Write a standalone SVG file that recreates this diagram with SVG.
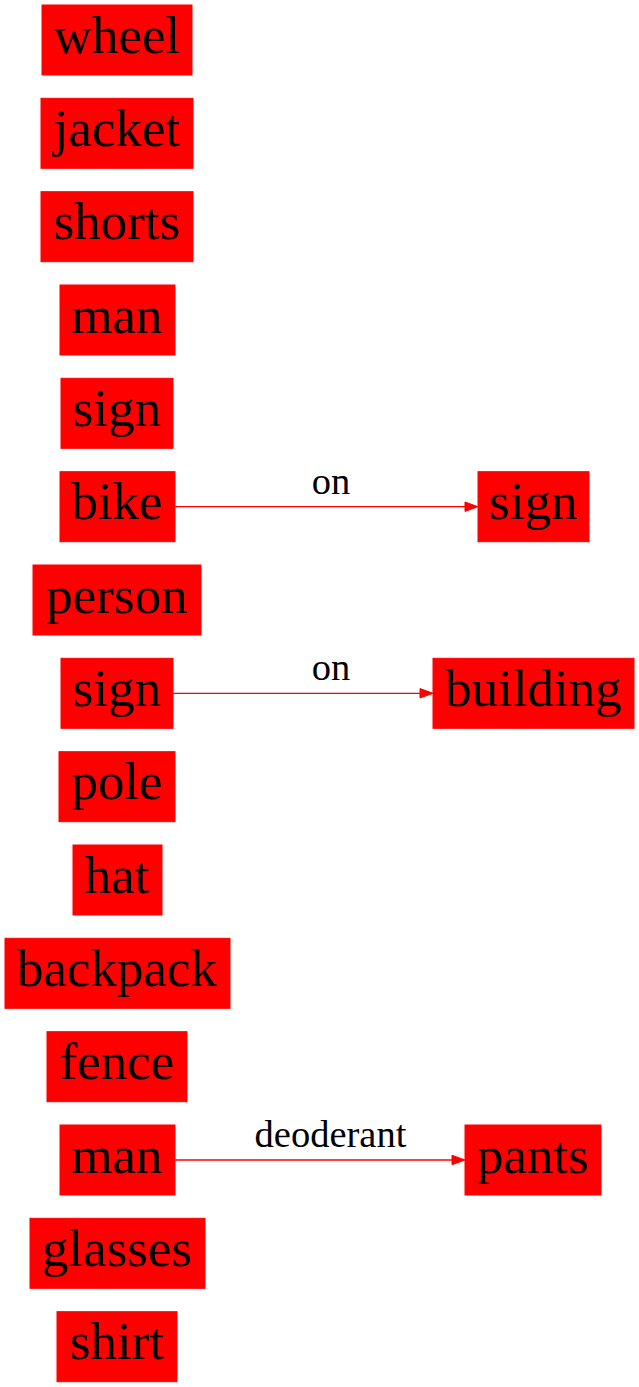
<svg xmlns="http://www.w3.org/2000/svg" width="639" height="1387" viewBox="0 0 639 1387">
<style>
.n rect{fill:#ff0000;stroke:#ff0000;stroke-width:1}
.n text{font-family:"Liberation Serif","Times New Roman",serif;font-size:53px;fill:#000;text-anchor:middle}
.e line{stroke:#ff0000;stroke-width:1.3}
.e polygon{fill:#ff0000;stroke:#ff0000;stroke-width:1}
.e text{font-family:"Liberation Serif","Times New Roman",serif;font-size:38.5px;fill:#000;text-anchor:middle}
</style>
<rect width="639" height="1387" fill="#fff"/>
<g id="nodes">
<g id="n_wheel" class="n"><rect x="42" y="5" width="150" height="70"/><text x="117" y="52.7">wheel</text></g>
<g id="n_jacket" class="n"><rect x="41" y="98.3" width="152" height="70"/><text x="117" y="146">jacket</text></g>
<g id="n_shorts" class="n"><rect x="41" y="191.7" width="152" height="70"/><text x="117" y="239.4">shorts</text></g>
<g id="n_man1" class="n"><rect x="60" y="285" width="115" height="70"/><text x="117" y="332.7">man</text></g>
<g id="n_sign1" class="n"><rect x="61" y="378.3" width="112" height="70"/><text x="117" y="426">sign</text></g>
<g id="n_bike" class="n"><rect x="60" y="471.7" width="115" height="70"/><text x="117" y="519.4">bike</text></g>
<g id="n_person" class="n"><rect x="33" y="565" width="168" height="70"/><text x="117" y="612.7">person</text></g>
<g id="n_sign2" class="n"><rect x="61" y="658.3" width="112" height="70"/><text x="117" y="706">sign</text></g>
<g id="n_pole" class="n"><rect x="59" y="751.7" width="116" height="70"/><text x="117" y="799.4">pole</text></g>
<g id="n_hat" class="n"><rect x="73" y="845" width="89" height="70"/><text x="117" y="892.7">hat</text></g>
<g id="n_backpack" class="n"><rect x="5" y="938.3" width="225" height="70"/><text x="117" y="986">backpack</text></g>
<g id="n_fence" class="n"><rect x="47" y="1031.7" width="140" height="70"/><text x="117" y="1079.4">fence</text></g>
<g id="n_man2" class="n"><rect x="60" y="1125" width="115" height="70"/><text x="117" y="1172.7">man</text></g>
<g id="n_glasses" class="n"><rect x="30" y="1218.3" width="175" height="70"/><text x="117" y="1266">glasses</text></g>
<g id="n_shirt" class="n"><rect x="57" y="1311.7" width="120" height="70"/><text x="117" y="1359.4">shirt</text></g>
<g id="n_sign3" class="n"><rect x="478" y="471.7" width="111" height="70"/><text x="533.5" y="519.4">sign</text></g>
<g id="n_building" class="n"><rect x="433" y="658.3" width="201" height="70"/><text x="533.5" y="706">building</text></g>
<g id="n_pants" class="n"><rect x="465" y="1125" width="136" height="70"/><text x="533" y="1172.7">pants</text></g>
</g>
<g id="edges">
<g class="e"><line x1="175" y1="506.7" x2="465" y2="506.7"/><polygon points="465,502 478,506.7 465,511.4"/><text x="331" y="494">on</text></g>
<g class="e"><line x1="173" y1="693.3" x2="420" y2="693.3"/><polygon points="420,688.6 433,693.3 420,698"/><text x="331" y="680">on</text></g>
<g class="e"><line x1="175" y1="1160" x2="452" y2="1160"/><polygon points="452,1155.3 465,1160 452,1164.7"/><text x="330.5" y="1147">deoderant</text></g>
</g>
</svg>
